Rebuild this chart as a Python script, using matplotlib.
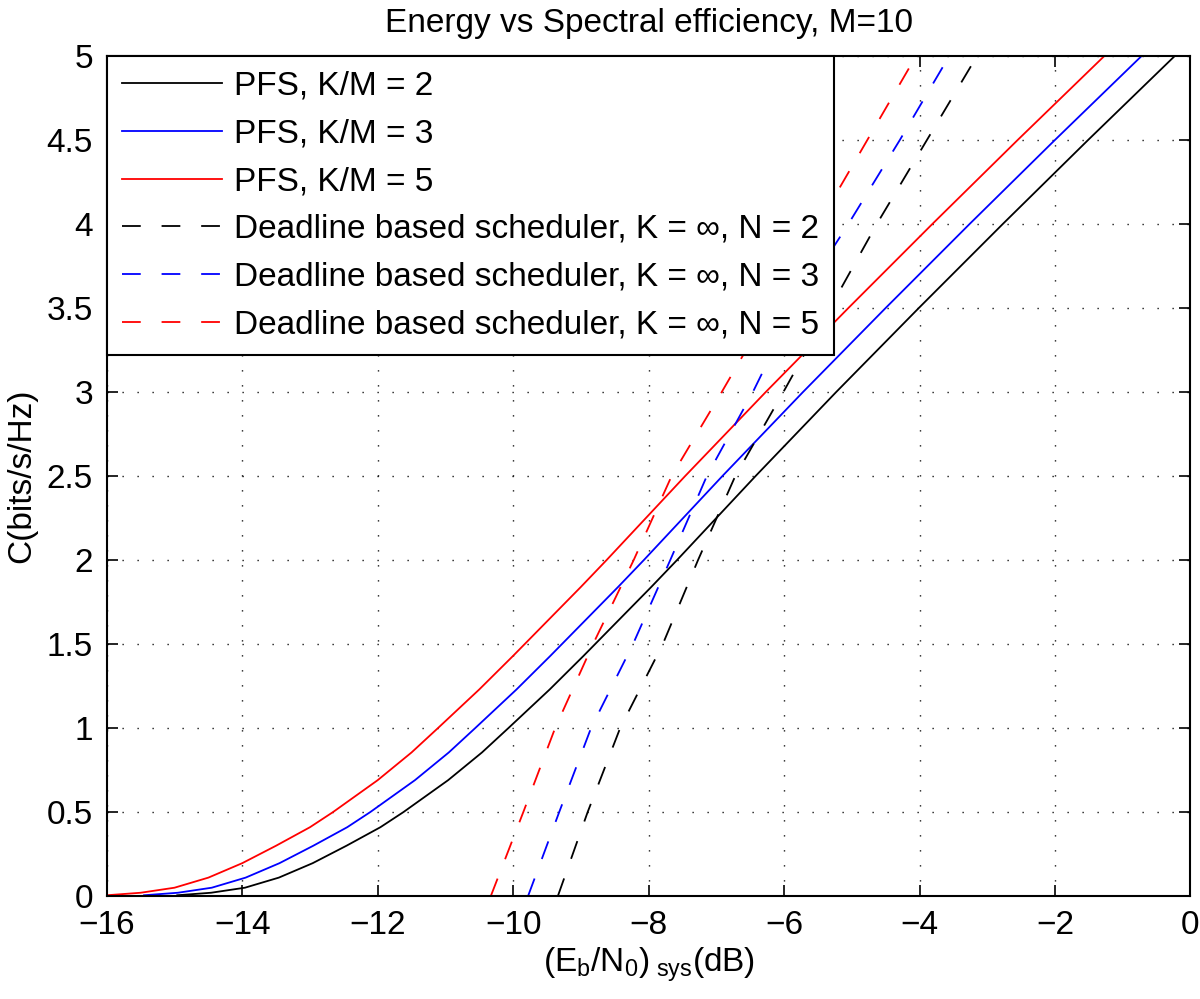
import matplotlib
matplotlib.use('Agg')
import matplotlib.pyplot as plt

plt.rcParams['font.family'] = ['Liberation Sans', 'DejaVu Sans']
plt.rcParams['mathtext.fontset'] = 'custom'
plt.rcParams['mathtext.rm'] = 'Liberation Sans'
plt.rcParams['mathtext.it'] = 'Liberation Sans'
plt.rcParams['lines.scale_dashes'] = False

# values
# deadline scheduler: x (dB) where each curve crosses these capacity levels
y_levels = [0, 0.5, 1, 1.5, 2, 2.5, 3, 3.5, 4, 4.5, 5]
dl_n2_x = [-9.34, -8.90, -8.42, -7.79, -7.27, -6.72, -6.01, -5.32, -4.63, -3.89, -3.15]
dl_n3_x = [-9.78, -9.32, -8.85, -8.23, -7.68, -7.14, -6.46, -5.85, -5.05, -4.29, -3.56]
dl_n5_x = [-10.33, -9.85, -9.38, -8.82, -8.22, -7.66, -6.92, -6.20, -5.49, -4.77, -4.05]

# PFS curves, sampled at the same capacity values
pfs_y = [0.005, 0.02, 0.05, 0.11, 0.196, 0.30, 0.41, 0.5, 0.69, 0.855, 1.0,
         1.23, 1.43, 1.635, 1.84, 2.0, 2.5, 3.0, 3.5, 4.0, 4.5, 5.0]
pfs2_x = [-14.96, -14.46, -13.96, -13.46, -12.96, -12.46, -11.96, -11.62, -10.96, -10.46, -10.07,
          -9.46, -8.96, -8.46, -7.96, -7.58, -6.42, -5.23, -4.01, -2.77, -1.51, -0.23]
pfs3_x = [-15.45, -14.95, -14.45, -13.95, -13.45, -12.95, -12.45, -12.11, -11.45, -10.95, -10.56,
          -9.95, -9.45, -8.95, -8.45, -8.07, -6.91, -5.72, -4.50, -3.26, -2.00, -0.72]
pfs5_x = [-16.0, -15.5, -15.0, -14.5, -14.0, -13.5, -13.0, -12.66, -12.0, -11.5, -11.11,
          -10.5, -10.0, -9.5, -9.0, -8.62, -7.46, -6.27, -5.05, -3.81, -2.55, -1.27]

labels = ['PFS, K/M = 2', 'PFS, K/M = 3', 'PFS, K/M = 5',
          'Deadline based scheduler, K = \u221e, N = 2',
          'Deadline based scheduler, K = \u221e, N = 3',
          'Deadline based scheduler, K = \u221e, N = 5']

fs = 24
fig = plt.figure(figsize=(12, 9.99), dpi=100)
ax = fig.add_axes([0.089, 0.103, 0.903, 0.841])

lw = 1.3
dash = (13.5, 15)
ax.plot(pfs2_x, pfs_y, color='black', lw=lw, label=labels[0])
ax.plot(pfs3_x, pfs_y, color='blue', lw=lw, label=labels[1])
ax.plot(pfs5_x, pfs_y, color='red', lw=lw, label=labels[2])
ax.plot(dl_n2_x, y_levels, color='black', lw=lw, dashes=dash, label=labels[3])
ax.plot(dl_n3_x, y_levels, color='blue', lw=lw, dashes=dash, label=labels[4])
ax.plot(dl_n5_x, y_levels, color='red', lw=lw, dashes=dash, label=labels[5])

ax.set_xlim(-16, 0)
ax.set_ylim(0, 5)
ax.set_xticks(range(-16, 1, 2))
ax.set_yticks(y_levels)
ax.set_yticklabels(['0', '0.5', '1', '1.5', '2', '2.5', '3', '3.5', '4', '4.5', '5'])
ax.tick_params(direction='in', length=8, width=1.2, top=True, right=True,
               labelsize=fs, pad=10)
for s in ax.spines.values():
    s.set_linewidth(1.5)
ax.grid(True, color='black', linestyle=(0, (0.9, 9.9)), linewidth=1.0)
ax.set_axisbelow(True)

ax.set_title('Energy vs Spectral efficiency, M=10', fontsize=fs, pad=17)
ax.set_xlabel(r'(E$_{\mathrm{b}}$/N$_{\mathrm{0}}$)$_{\mathrm{\ sys}}$(dB)', fontsize=fs, labelpad=3)
ax.set_ylabel('C(bits/s/Hz)', fontsize=fs, labelpad=7)

leg = ax.legend(loc='upper left', fontsize=fs, frameon=True, fancybox=False,
                edgecolor='black', framealpha=1, handlelength=3.0,
                handletextpad=0.36, labelspacing=0.5, borderaxespad=0,
                borderpad=0.45)
leg.get_frame().set_linewidth(1.5)

fig.savefig('out.png', dpi=100)
